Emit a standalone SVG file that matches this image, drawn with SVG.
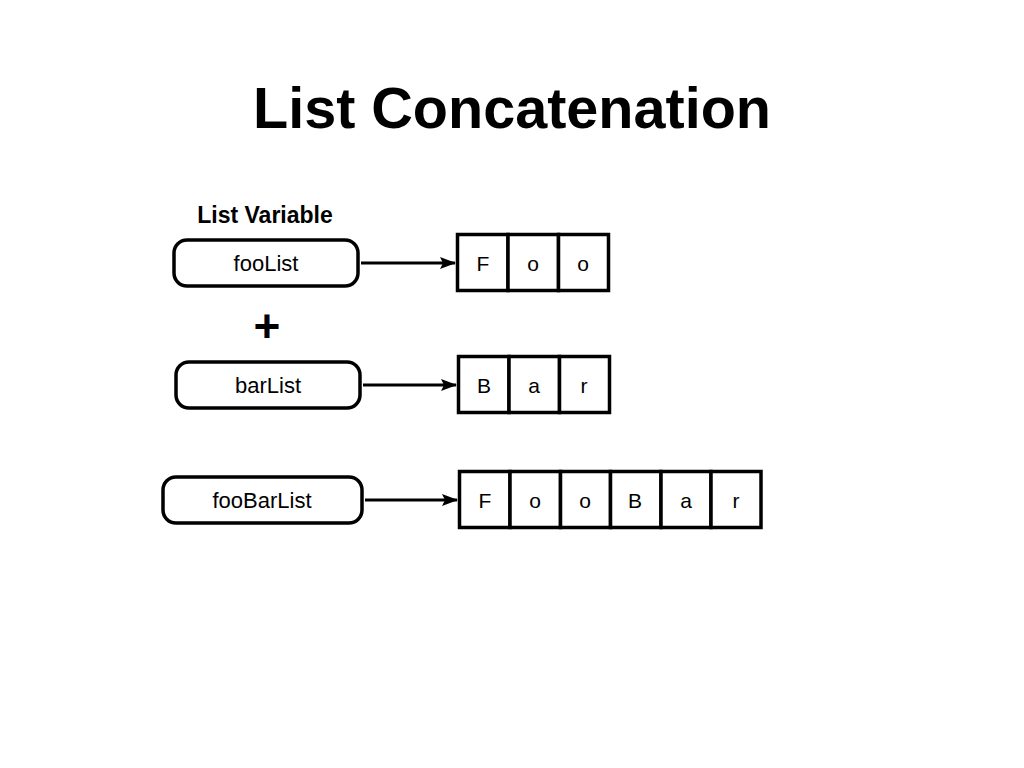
<svg xmlns="http://www.w3.org/2000/svg" width="1024" height="768" viewBox="0 0 1024 768">
  <defs>
    <marker id="arrow" markerWidth="16" markerHeight="12" refX="15" refY="6" orient="auto" markerUnits="userSpaceOnUse">
      <path d="M0,0 L16,6 L0,12 L3,6 Z" fill="#000"/>
    </marker>
    <style>
      .title { font-family: "Liberation Sans", Arial, sans-serif; font-weight: bold; font-size: 57px; fill: #000; }
      .caption { font-family: "Liberation Sans", Arial, sans-serif; font-weight: bold; font-size: 23px; fill: #000; }
      .var { fill: #fff; stroke: #000; stroke-width: 3.5; }
      .label { font-family: "Liberation Sans", Arial, sans-serif; font-size: 22px; fill: #000; text-anchor: middle; }
      .cell { fill: #fff; stroke: #000; stroke-width: 3.5; }
      .ch { font-family: "Liberation Sans", Arial, sans-serif; font-size: 21px; fill: #000; text-anchor: middle; }
      .link { stroke: #000; stroke-width: 3; fill: none; marker-end: url(#arrow); }
      .plus { font-family: "Liberation Sans", Arial, sans-serif; font-weight: bold; font-size: 46px; fill: #000; text-anchor: middle; }
    </style>
  </defs>

  <rect width="1024" height="768" fill="#fff"/>

  <text class="title" x="512" y="128" text-anchor="middle" textLength="518" lengthAdjust="spacingAndGlyphs">List Concatenation</text>
  <text class="caption" x="265" y="223" text-anchor="middle">List Variable</text>

  <!-- variables -->
  <g id="fooList">
    <rect class="var" x="174" y="240" width="184" height="46" rx="13"/>
    <text class="label" x="266" y="271">fooList</text>
  </g>
  <g id="barList">
    <rect class="var" x="176" y="362" width="184" height="46" rx="13"/>
    <text class="label" x="268" y="393">barList</text>
  </g>
  <g id="fooBarList">
    <rect class="var" x="163" y="477" width="199" height="46" rx="13"/>
    <text class="label" x="262" y="508">fooBarList</text>
  </g>

  <text class="plus" x="267" y="342">+</text>

  <!-- list values -->
  <g id="fooValue">
    <rect class="cell" x="457.5" y="234.5" width="50.5" height="56"/>
    <rect class="cell" x="508" y="234.5" width="50.5" height="56"/>
    <rect class="cell" x="558.5" y="234.5" width="50" height="56"/>
    <text class="ch" x="483" y="271">F</text>
    <text class="ch" x="533" y="271">o</text>
    <text class="ch" x="583" y="271">o</text>
  </g>
  <g id="barValue">
    <rect class="cell" x="458.5" y="356.5" width="50.5" height="56"/>
    <rect class="cell" x="509" y="356.5" width="50.5" height="56"/>
    <rect class="cell" x="559.5" y="356.5" width="50" height="56"/>
    <text class="ch" x="484" y="393">B</text>
    <text class="ch" x="534" y="393">a</text>
    <text class="ch" x="584" y="393">r</text>
  </g>
  <g id="fooBarValue">
    <rect class="cell" x="459.5" y="471.5" width="50.5" height="56"/>
    <rect class="cell" x="510" y="471.5" width="50.5" height="56"/>
    <rect class="cell" x="560.5" y="471.5" width="50" height="56"/>
    <rect class="cell" x="610.5" y="471.5" width="50.5" height="56"/>
    <rect class="cell" x="661" y="471.5" width="50" height="56"/>
    <rect class="cell" x="711" y="471.5" width="50" height="56"/>
    <text class="ch" x="485" y="508">F</text>
    <text class="ch" x="535" y="508">o</text>
    <text class="ch" x="585" y="508">o</text>
    <text class="ch" x="635" y="508">B</text>
    <text class="ch" x="686" y="508">a</text>
    <text class="ch" x="736" y="508">r</text>
  </g>

  <!-- references -->
  <g id="connectors">
    <line class="link" x1="361" y1="263" x2="455" y2="263"/>
    <line class="link" x1="363" y1="385" x2="456" y2="385"/>
    <line class="link" x1="365" y1="500" x2="457" y2="500"/>
  </g>
</svg>
